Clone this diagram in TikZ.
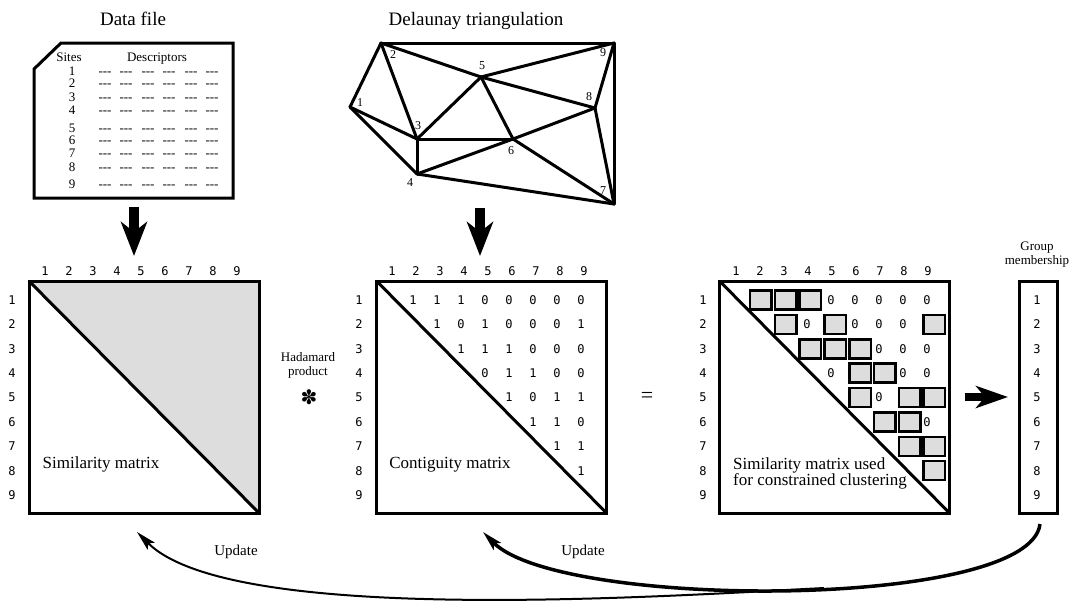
\documentclass[tikz,border=0pt]{standalone}
\usepackage{fontspec}
\setmainfont{Liberation Serif}
\newfontfamily\idxfont{DejaVu Sans Mono}
\newfontfamily\symfont{DejaVu Sans}
\usetikzlibrary{arrows.meta,backgrounds}
\definecolor{cellgray}{RGB}{221,221,221}

\tikzset{
  title/.style={font=\fontsize{19}{22}\selectfont},
  small/.style={font=\fontsize{13}{14}\selectfont, inner sep=0pt},
  ptlbl/.style={font=\fontsize{12}{12}\selectfont, inner sep=0pt},
  idx/.style={font=\idxfont\fontsize{12}{12}\selectfont, inner sep=0pt},
  mat/.style={draw, line width=3pt, minimum width=230pt, minimum height=232pt, inner sep=0pt, outer sep=0pt},
  cell/.style={draw, fill=cellgray, line width=2.5pt, minimum width=21.5pt, minimum height=19pt, inner sep=0pt},
  edge/.style={line width=3pt, line cap=round},
  bigarrow/.style={line width=10pt, -{Stealth[length=34pt, width=26pt, inset=10pt]}},
  midarrow/.style={line width=8pt, -{Stealth[length=32pt, width=22pt, inset=9pt]}},
  updarrow/.style={-{Stealth[length=20pt, width=10pt, inset=4pt]}}
}

\begin{document}
\begin{tikzpicture}[
    x=1pt, y=-1pt,
    every node/.style={font=\fontsize{17}{16}\selectfont}
]
\useasboundingbox (0,0) rectangle (1073,603);

\node[title, anchor=base] (dftitle) at (133,25) {Data file};
\node[title, anchor=base] (dttitle) at (476,25) {Delaunay triangulation};

% data file
\draw[line width=3pt] (61,43) -- (233,43) -- (233,198) -- (34,198) -- (34,69) -- cycle;
\node[small, anchor=base] (sites) at (69,61) {Sites};
\node[small, anchor=base] (descr) at (157,61) {Descriptors};
\foreach \k/\yb in {1/75,2/87,3/101,4/114.5,5/132,6/144,7/157.5,8/171,9/188.5} {
  \node[small, anchor=base] (site\k) at (72,\yb) {\k};
  \foreach \dd/\xd in {1/105,2/126,3/148,4/169,5/191,6/212}
    \node[small, anchor=base] (val\k\dd) at (\xd,\yb) {-{}-{}-};
}

% triangulation
\coordinate (p1) at (350,107);
\coordinate (p2) at (381,43);
\coordinate (p3) at (417,139);
\coordinate (p4) at (417,174);
\coordinate (p5) at (481,77);
\coordinate (p6) at (513,139);
\coordinate (p7) at (614,204);
\coordinate (p8) at (595,108);
\coordinate (p9) at (614,43);
\foreach \a/\b in {2/9,9/7,2/1,1/3,1/4,2/3,2/5,5/9,5/3,5/8,5/6,8/9,8/6,8/7,3/6,3/4,4/6,4/7,6/7}
  \draw[edge] (p\a) -- (p\b);
\node[ptlbl] (l1) at (360,103) {1};
\node[ptlbl] (l2) at (393,55) {2};
\node[ptlbl] (l3) at (418,126) {3};
\node[ptlbl] (l4) at (410,183) {4};
\node[ptlbl] (l5) at (482,66) {5};
\node[ptlbl] (l6) at (511,151) {6};
\node[ptlbl] (l7) at (603,191) {7};
\node[ptlbl] (l8) at (589,97) {8};
\node[ptlbl] (l9) at (603,53) {9};

\coordinate (dfout) at (134,207);
\coordinate (simin) at (134,256);
\coordinate (dtout) at (480,208);
\coordinate (conin) at (480,256);
\draw[bigarrow] (dfout) -- (simin);
\draw[bigarrow] (dtout) -- (conin);

% matrices
\node[mat] (simmat) at (144,397) {};
\node[mat] (conmat) at (491.5,397) {};
\node[mat] (usedmat) at (834.5,397) {};
\node[mat, minimum width=38pt] (grp) at (1038,397) {};

\begin{scope}[on background layer]
\fill[cellgray] (simmat.north west) -- (simmat.north east) -- (simmat.south east) -- cycle;
\end{scope}
\draw[line width=3pt] (simmat.north west) -- (simmat.south east);
\draw[line width=3pt] (conmat.north west) -- (conmat.south east);
\draw[line width=3pt] (usedmat.north west) -- (usedmat.south east);

\foreach \m/\lx in {simmat/29,conmat/376,usedmat/720}
  \foreach \k in {1,...,9} {
    \node[idx] (\m-c\k) at (\lx+16+24*\k-24,271) {\k};
    \node[idx] (\m-r\k) at (\lx-17,300+24.375*\k-24.375) {\k};
  }
\foreach \k in {1,...,9}
  \node[idx] (grp-\k) at (1037,300+24.375*\k-24.375) {\k};

\foreach \r/\s/\vals in {1/2/{1,1,1,0,0,0,0,0}, 2/3/{1,0,1,0,0,0,1}, 3/4/{1,1,1,0,0,0},
    4/5/{0,1,1,0,0}, 5/6/{1,0,1,1}, 6/7/{1,1,0}, 7/8/{1,1}, 8/9/{1}}
  \foreach \v [count=\cl from \s] in \vals {
    \node[idx] (con-\r-\cl) at (389+24*\cl-24,300+24.375*\r-24.375) {\v};
    \ifnum\v=1\relax
      \node[cell] (used-\r-\cl) at (736+24.8*\cl-24.8,300+24.375*\r-24.375) {};
    \else
      \node[idx] (used-\r-\cl) at (735+24*\cl-24,300+24.375*\r-24.375) {0};
    \fi
  }

\node[anchor=base] (simlbl) at (101,468) {Similarity matrix};
\node[anchor=base] (conlbl) at (450,468) {Contiguity matrix};
\node[anchor=west, align=left, inner sep=0pt] (usedlbl) at (733,473) {Similarity matrix used\\for constrained clustering};

\node[small, align=center] (had) at (308,365) {Hadamard\\product};
\node[font=\symfont\fontsize{20}{20}\selectfont] (star) at (309,397) {✽};
\node[font=\fontsize{22}{22}\selectfont] (eq) at (647,397) {=};
\node[small, align=center] (grplbl) at (1037,255) {Group\\membership};

\draw[midarrow] ([xshift=15pt]usedmat.east) -- ([xshift=-11pt]grp.west);

% update loops
\coordinate (fb) at (1040,524);
\coordinate (merge) at (824,588);
\coordinate (upd1) at (137,532);
\coordinate (upd2) at (483,532);
\draw[updarrow, line width=3.5pt] (fb) .. controls (1030,610) and (560,610) .. (upd2);
\draw[updarrow, line width=2pt] (merge) .. controls (650,597) and (230,625) .. (upd1);
\node[font=\fontsize{15}{15}\selectfont] (upd1lbl) at (236,552) {Update};
\node[font=\fontsize{15}{15}\selectfont] (upd2lbl) at (583,552) {Update};
\end{tikzpicture}
\end{document}
